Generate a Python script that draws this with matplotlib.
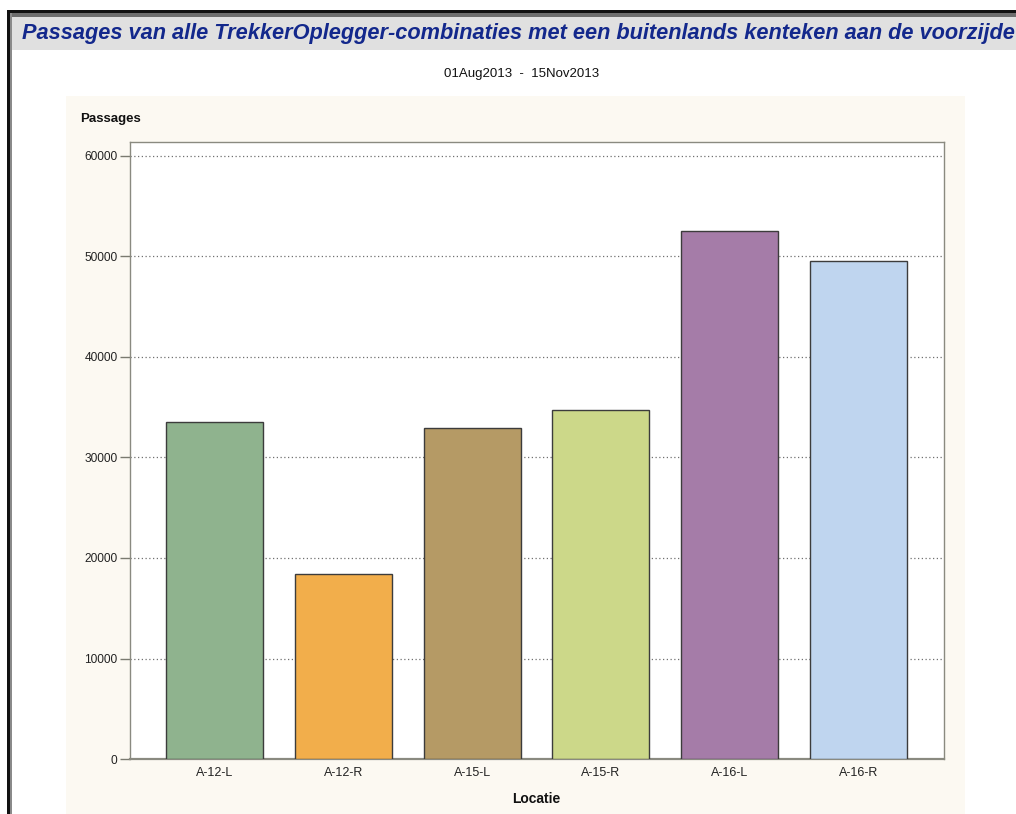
import matplotlib
matplotlib.use("Agg")
import matplotlib.pyplot as plt
from matplotlib.patches import Rectangle
import numpy as np

# ---- data ----
categories = ["A-12-L", "A-12-R", "A-15-L", "A-15-R", "A-16-L", "A-16-R"]
passages = [33500, 18400, 32900, 34700, 52500, 49600]
bar_colors = ["#8FB38E", "#F2AE4B", "#B59A65", "#CCD889", "#A57CA8", "#BFD5EF"]
yticks = [0, 10000, 20000, 30000, 40000, 50000, 60000]
title = "Passages van alle TrekkerOplegger-combinaties met een buitenlands kenteken aan de voorzijde"
subtitle = "01Aug2013  -  15Nov2013"

W, H = 1016, 814
fig = plt.figure(figsize=(W / 100, H / 100), dpi=100)
fig.patch.set_facecolor("white")

def px_rect(x0, y0, x1, y1, color, z=0):
    r = Rectangle((x0 / W, 1 - y1 / H), (x1 - x0) / W, (y1 - y0) / H,
                  transform=fig.transFigure, facecolor=color, edgecolor="none",
                  zorder=z)
    fig.add_artist(r)

# window frame
px_rect(7, 10, W, 13, "#111111", 1)
px_rect(7, 13, W, 17, "#6E6E6E", 1)
px_rect(7, 10, 10, H, "#111111", 1)
px_rect(10, 13, 12, H, "#8A8A8A", 1)
# title bar
px_rect(12, 17, W, 50, "#E0E0E0", 0)
# beige panel
px_rect(66, 96, 965, H, "#FCF9F2", 0)

font = "Liberation Sans"

fig.text(22 / W, 1 - 34 / H, title, fontsize=15.65, fontweight="bold",
         fontstyle="italic", color="#13288C", family=font,
         ha="left", va="center", zorder=3)
fig.text(522 / W, 1 - 74 / H, subtitle, fontsize=9.5, color="#111111",
         family=font, ha="center", va="center", zorder=3)

# plot area
left, right, top, bottom = 130, 944, 142, 759
ax = fig.add_axes([left / W, 1 - bottom / H, (right - left) / W, (bottom - top) / H])
ax.set_facecolor("white")
ax.set_zorder(2)

x = np.arange(len(categories))
ax.bar(x, passages, width=0.755, color=bar_colors, edgecolor="#3C3C3C",
       linewidth=1.0, zorder=3)

ymax = 10000 * (bottom - top) / 100.5
ax.set_ylim(0, ymax)
ax.set_xlim(-0.657, 5.665)
ax.set_yticks(yticks)
ax.set_yticklabels([str(v) for v in yticks])
ax.set_xticks(x)
ax.set_xticklabels(categories)

for v in yticks[1:]:
    ax.axhline(v, color="#707070", linestyle=(0, (1, 2)), linewidth=0.9, zorder=1)

for s in ["left", "right", "top"]:
    ax.spines[s].set_color("#8A8A80")
    ax.spines[s].set_linewidth(1.0)
ax.spines["bottom"].set_color("#8A8A80")
ax.spines["bottom"].set_linewidth(1.6)

ax.tick_params(axis="y", direction="out", length=7, width=1.0, color="#7A7A70",
               labelsize=8.6, labelcolor="#222222", pad=2)
ax.tick_params(axis="x", length=0, labelsize=9, labelcolor="#222222", pad=6)
for lab in ax.get_yticklabels() + ax.get_xticklabels():
    lab.set_family(font)

fig.text(80 / W, 1 - 119 / H, "Passages", fontsize=9.5, fontweight="bold",
         family=font, color="#111111", ha="left", va="center")
fig.text(536 / W, 1 - 799 / H, "Locatie", fontsize=10, fontweight="bold",
         family=font, color="#111111", ha="center", va="center")

fig.savefig("out.png", dpi=100, facecolor=fig.get_facecolor())
